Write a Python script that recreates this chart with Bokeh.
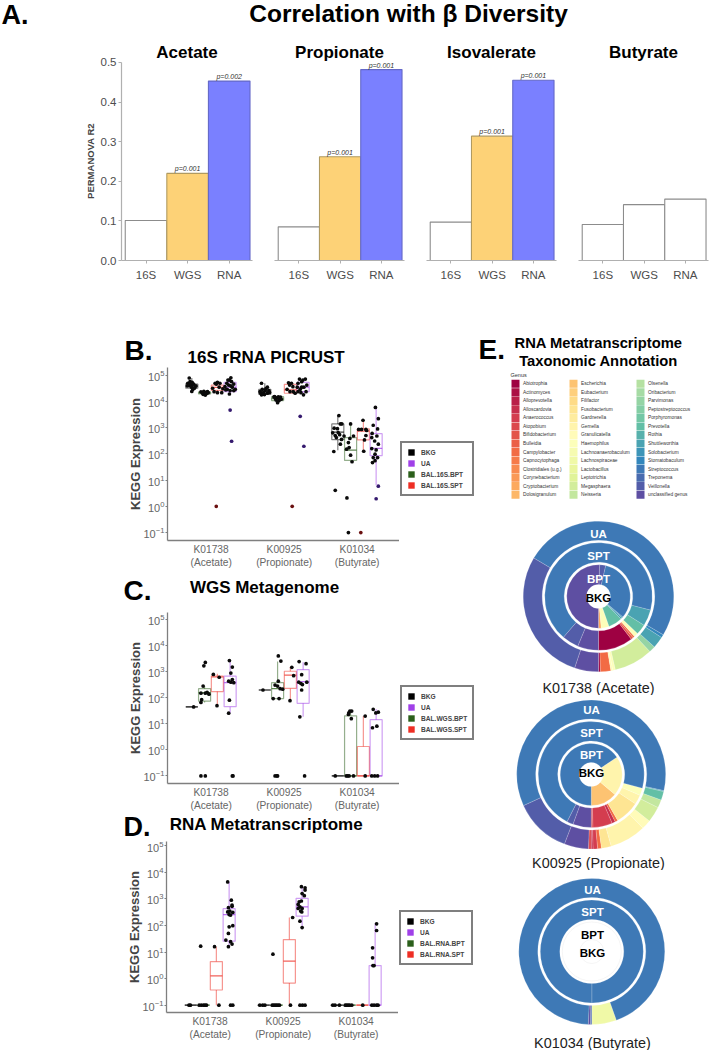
from bokeh.plotting import figure
from bokeh.layouts import column, row
from bokeh.core.properties import value
from bokeh.models import (Range1d, Label, FixedTicker, LogTickFormatter, Legend, LegendItem, ColumnDataSource,
                          NumeralTickFormatter)
from bokeh.embed import file_html
from bokeh.resources import INLINE
import numpy as np

FONT = "Liberation Sans"

# ---------- Panel A ----------
a_panels = ["Acetate", "Propionate", "Isovalerate", "Butyrate"]
a_methods = ["16S", "WGS", "RNA"]
a_acetate = [0.101, 0.220, 0.453]
a_propionate = [0.085, 0.262, 0.482]
a_isovalerate = [0.097, 0.314, 0.455]
a_butyrate = [0.091, 0.141, 0.155]
a_p_acetate = ["", "p=0.001", "p=0.002"]
a_p_propionate = ["", "p=0.001", "p=0.001"]
a_p_isovalerate = ["", "p=0.001", "p=0.001"]
a_p_butyrate = ["", "", ""]

# ---------- Panels B, C, D : log10 expression ----------
categories = ["K01738\n(Acetate)", "K00925\n(Propionate)", "K01034\n(Butyrate)"]
group_offset = [-0.265, -0.09, 0.085, 0.26]

b_legend = ["BKG", "UA", "BAL.16S.BPT", "BAL.16S.SPT"]
c_legend = ["BKG", "UA", "BAL.WGS.BPT", "BAL.WGS.SPT"]
d_legend = ["BKG", "UA", "BAL.RNA.BPT", "BAL.RNA.SPT"]

# order per category: BKG, BPT, SPT, UA
b_q1 = [4.50, 4.28, 4.42, 4.37, 4.27, 4.03, 4.31, 4.37, 2.54, 1.75, 2.53, 1.93]
b_med = [4.58, 4.32, 4.53, 4.54, 4.37, 4.10, 4.44, 4.54, 2.83, 2.14, 2.87, 2.21]
b_q3 = [4.66, 4.36, 4.62, 4.72, 4.46, 4.18, 4.65, 4.72, 3.14, 2.62, 2.95, 2.77]
b_lo = [4.38, 4.21, 4.33, 4.28, 4.25, 3.95, 4.31, 4.28, 2.14, 1.70, 2.11, 0.80]
b_hi = [4.89, 4.38, 4.72, 4.90, 4.69, 4.18, 4.71, 4.85, 3.47, 3.14, 3.28, 3.78]

c_q1 = [1.65, 1.87, 2.24, 1.66, 2.30, 1.97, 2.36, 1.79, -1, -1, -1, -1]
c_med = [1.65, 2.20, 2.80, 2.58, 2.30, 2.35, 2.87, 2.62, -1, -1, -1, -1]
c_q3 = [1.65, 2.35, 2.83, 2.83, 2.30, 2.58, 3.02, 3.08, -1, 1.31, 0.13, 1.16]
c_lo = [1.65, 1.82, 1.70, 1.41, 2.30, 1.97, 1.89, 1.27, -1, -1, -1, -1]
c_hi = [1.65, 2.45, 2.92, 3.43, 2.30, 3.39, 3.18, 3.37, -1, 1.49, 1.30, 1.57]

d_q1 = [-1, -1, -0.43, 1.41, -1, -1, -0.17, 2.35, -1, -1, -1, -1]
d_med = [-1, -1, 0.10, 2.41, -1, -1, 0.66, 2.70, -1, -1, -1, -1]
d_q3 = [-1, -1, 0.64, 2.63, -1, -1, 1.47, 3.02, -1, -1, -1, 0.49]
d_lo = [-1, -1, -1, 1.20, -1, -1, -1, 1.92, -1, -1, -1, -1]
d_hi = [-1, -1, 1.20, 3.64, -1, -1, 2.30, 3.46, -1, -1, -1, 2.06]

# points : B
b_x = [.70,.68,.71,.735,.76,.71,.78,.73,.79,.675,.75,.735,.77,.71,.74,
       .86,.88,.90,.91,.93,.95,.96,.89,.92,.94,.90,.915,
       1.055,1.086,1.12,1.02,1.04,1.11,1.145,1.086,1.16,1.07,
       1.27,1.25,1.28,1.215,1.31,1.24,1.19,1.29,1.33,1.22,1.26,1.31,1.25,1.20,1.27,1.23,
       1.69,1.77,1.70,1.67,1.74,1.79,1.68,1.72,1.77,1.73,1.80,1.69,1.75,
       1.86,1.88,1.90,1.92,1.94,1.96,1.89,1.93,1.91,1.87,1.95,
       2.06,2.10,2.04,2.125,2.15,2.08,2.12,2.075,
       2.21,2.256,2.29,2.19,2.24,2.31,2.18,2.22,2.27,2.30,2.23,2.265,2.19,2.24,
       2.75,2.77,2.685,2.73,2.665,2.70,2.76,2.785,2.715,2.77,2.68,2.70,2.74,2.79,
       2.91,2.90,2.82,2.95,2.88,2.91,2.93,2.86,2.88,2.855,2.89,
       3.08,3.02,3.06,3.12,3.13,3.12,3.10,3.09,
       3.25,3.29,3.22,3.28,3.205,3.27,3.20,3.24,3.29,3.20,3.26,3.245,3.22,3.28,3.245,3.21]
b_y = [4.89,4.69,4.75,4.62,4.66,4.60,4.56,4.54,4.59,4.59,4.46,4.38,4.5,4.69,4.72,
       4.36,4.33,4.38,4.3,4.34,4.37,4.33,4.27,4.24,4.3,4.34,4.32,
       4.69,4.72,4.69,4.5,4.37,4.54,4.33,4.33,4.48,4.66,
       4.9,4.81,4.75,4.69,4.66,4.62,4.56,4.54,4.46,4.46,4.41,4.41,4.28,4.44,4.59,4.81,
       4.69,4.54,4.46,4.37,4.41,4.41,4.31,4.33,4.31,4.26,4.34,4.25,4.49,
       4.17,4.1,4.13,4.17,4.12,4.08,4.05,4.03,3.95,4.18,4.16,
       4.71,4.69,4.46,4.37,4.31,4.37,4.56,4.62,
       4.85,4.81,4.85,4.69,4.75,4.62,4.54,4.46,4.54,4.37,4.33,4.25,4.37,4.54,
       3.46,3.14,2.98,2.96,2.80,2.70,2.73,2.55,2.62,2.37,2.09,0.61,2.81,3.14,
       3.14,2.59,2.68,2.68,2.43,1.95,1.70,0.32,-1,2.18,2.24,
       3.28,2.93,2.93,2.93,2.89,2.70,2.53,2.10,
       3.77,3.34,3.09,2.95,2.78,2.68,2.62,2.49,2.37,2.2,2.15,1.99,1.86,1.86,1.74,1.67]
b_red_x = [1.07, 2.11, 3.05]
b_red_y = [0, 0, -1]
b_violet_x = [1.26, 1.28, 2.22, 2.27, 3.29, 3.26]
b_violet_y = [3.67, 2.48, 3.43, 2.29, 0.77, 0.29]

# points : C
c_x = [.76,
       .90,.92,.89,.86,.92,.945,.97,.87,.86,.86,.92,
       1.03,1.11,1.08,
       1.25,1.29,1.27,1.29,1.24,1.27,1.31,1.25,1.24,1.29,1.30,
       1.71,
       1.92,1.955,1.92,1.875,1.91,1.945,1.98,1.85,1.93,1.875,1.90,1.91,
       2.105,2.13,2.08,
       2.205,2.30,2.24,2.23,2.20,2.31,2.25,2.24,2.215,2.28,
       2.70,
       2.885,2.90,2.925,2.88,2.92,2.85,2.87,2.89,2.95,
       3.11,3.11,
       3.22,3.29,3.255,3.21,3.27,3.20,3.24,3.28]
c_y = [1.65,
       3.23,3.36,2.45,2.18,2.18,2.21,2.14,1.93,1.82,-1,-1,
       2.9,2.79,1.7,
       3.43,3.18,2.95,2.70,2.64,2.6,2.58,1.91,1.41,-1,-1,
       2.30,
       3.61,3.41,2.64,2.49,2.45,2.35,2.33,1.97,1.97,-1,-1,-1,
       3.17,2.85,1.89,
       3.39,3.31,2.89,2.55,2.6,2.6,2.51,2.3,1.27,-1,
       -1,
       1.42,1.49,1.49,1.36,1.2,-1,-1,-1,-1,
       1.3,-1,
       1.56,1.45,1.42,.85,.91,-1,-1,-1]

# points : D
d_x = [.73,.71,
       .85,.88,.91,.93,.95,.87,
       1.06,1.12,
       1.24,1.29,1.30,1.25,1.30,1.27,1.26,1.24,1.31,1.28,1.215,1.31,1.25,1.26,1.28,1.30,1.25,1.28,1.31,
       1.68,1.72,1.75,
       1.85,1.87,1.89,1.91,1.93,1.95,1.86,
       2.13,2.10,
       2.25,2.30,2.30,2.26,2.29,2.22,2.25,2.205,2.23,2.26,2.24,2.205,2.255,2.23,2.26,2.23,2.265,2.30,
       2.68,2.71,2.77,
       2.85,2.87,2.89,2.91,2.94,
       3.09,
       3.28,3.28,3.225,3.225,3.23,3.245,3.215,3.245,3.28,3.30]
d_y = [-1,-1,
       -1,-1,-1,-1,-1,1.22,
       1.2,-1,
       3.64,2.95,2.77,2.67,2.72,2.54,2.41,2.51,2.49,2.39,1.45,1.99,1.7,1.95,1.39,1.3,1.2,-1,-1,
       -1,-1,-1,
       -1,-1,-1,-1,-1,-1,.92,
       2.3,-1,
       3.46,3.42,3.33,3.2,3.12,2.89,2.92,2.79,2.7,2.64,2.54,2.64,2.51,2.16,1.92,-1,-1,-1,
       -1,-1,-1,
       -1,-1,-1,-1,-1,
       -1,
       2.06,1.81,1.16,.78,.49,.49,-1,-1,-1,-1]

# ---------- Panel E ----------
genus_col1 = ["Abiotrophia","Actinomyces","Alloprevotella","Alloscardovia","Anaerococcus","Atopobium",
              "Bifidobacterium","Bulleidia","Campylobacter","Capnocytophaga","Clostridiales (u.g.)",
              "Corynebacterium","Cryptobacterium","Dolosigranulum"]
genus_col2 = ["Escherichia","Eubacterium","Filifactor","Fusobacterium","Gardnerella","Gemella",
              "Granulicatella","Haemophilus","Lachnoanaerobaculum","Lachnospiraceae","Lactobacillus",
              "Leptotrichia","Megasphaera","Neisseria"]
genus_col3 = ["Olsenella","Oribacterium","Parvimonas","Peptostreptococcus","Porphyromonas","Prevotella",
              "Rothia","Shuttleworthia","Solobacterium","Stomatobaculum","Streptococcus","Treponema",
              "Veillonella","unclassified genus"]

# wedge sizes in degrees, anticlockwise from six o'clock
k01738_ua_genus = ["Abiotrophia","Campylobacter","Granulicatella","Haemophilus","Megasphaera","Parvimonas",
                   "Shuttleworthia","Stomatobaculum","Streptococcus","Veillonella","unclassified genus"]
k01738_ua_deg = [1.5, 8, 1.5, 2, 30, 5, 9, 2.4, 179.9, 102.3, 18.4]
k01738_spt_genus = ["Abiotrophia","Bifidobacterium","Campylobacter","Haemophilus","Prevotella","Shuttleworthia",
                    "Streptococcus","Veillonella","unclassified genus"]
k01738_spt_deg = [37.6, 2.4, 2, 4.5, 11.3, 17.6, 244, 18, 22.6]
k01738_bpt_genus = ["Cryptobacterium","Haemophilus","Prevotella","Shuttleworthia","Solobacterium","Streptococcus",
                    "Veillonella","unclassified genus"]
k01738_bpt_deg = [5, 14.4, 25.6, 3, 2, 117, 11, 182]

k00925_ua_genus = ["Alloscardovia","Anaerococcus","Campylobacter","Fusobacterium","Gemella","Granulicatella",
                   "Megasphaera","Neisseria","Prevotella","Shuttleworthia","Streptococcus","Veillonella",
                   "unclassified genus","Atopobium"]
k00925_ua_deg = [1.5, 3.5, 3, 7.6, 28.4, 7.4, 12.3, 6.3, 6.8, 0.7, 217.2, 44.3, 19, 2]
k00925_spt_genus = ["Atopobium","Anaerococcus","Alloscardovia","Campylobacter","Fusobacterium","Gemella",
                    "Haemophilus","Streptococcus","Veillonella","unclassified genus"]
k00925_spt_deg = [2, 21.3, 3.7, 3, 26.5, 10.5, 8, 258, 7, 20]
k00925_bpt_genus = ["Escherichia","Gemella","Streptococcus"]
k00925_bpt_deg = [50, 74, 236]

k01034_ua_genus = ["Lachnospiraceae","Streptococcus","unclassified genus","Treponema"]
k01034_ua_deg = [19.7, 337.6, 1.7, 1]
k01034_spt_genus = ["Streptococcus"]
k01034_spt_deg = [360]
k01034_bpt_genus = []
k01034_bpt_deg = []

# ---------- styling ----------
GROUP_COLOR = ["#000000", "#2B5F1B", "#EE2E24", "#A040E8"]
LEG_COLOR = ["#000000", "#A040E8", "#2B5F1B", "#EE2E24"]
spectral = ["#9e0142","#d53e4f","#f46d43","#fdae61","#fee08b","#ffffbf","#e6f598","#abdda4","#66c2a5","#3288bd","#5e4fa2"]
all_genus = genus_col1 + genus_col2 + genus_col3
_rgb = np.array([[int(c[i:i+2], 16) for i in (1, 3, 5)] for c in spectral], float)
_t = np.linspace(0, 10, len(all_genus))
GENUS_COLOR = {g: "#%02x%02x%02x" % tuple(int(round(np.interp(t, np.arange(11), _rgb[:, k]))) for k in range(3))
               for g, t in zip(all_genus, _t)}


def mk(box, frame=None, **kw):
    x0, y0, x1, y1 = box
    fx0, fy0, fx1, fy1 = frame if frame else box
    p = figure(width=x1 - x0, height=y1 - y0, toolbar_location=None, output_backend="svg",
               min_border_left=round(fx0 - x0), min_border_right=round(x1 - fx1),
               min_border_top=round(fy0 - y0), min_border_bottom=round(y1 - fy1),
               min_border=0, outline_line_color=None, **kw)
    p.grid.visible = False
    p._fr = (fx0, fy0, fx1, fy1)
    return p


def plain(box, frame=None):
    p = mk(box, frame, x_range=Range1d(0, 1), y_range=Range1d(0, 1))
    p.axis.visible = False
    return p


def lab(p, px, py, text, size, style="bold", color="black", align="center"):
    fx0, fy0, fx1, fy1 = p._fr
    p.add_layout(Label(x=px - fx0, y=fy1 - py, x_units="screen", y_units="screen", text=text,
                       text_font=FONT, text_font_size=f"{size}px", text_font_style=style,
                       text_color=color, text_align=align, text_baseline="middle"))


def swatch(p, color):
    # legend key: drawn off the visible range, only its legend entry shows
    return p.quad(left=[5], right=[6], top=[6], bottom=[5], fill_color=color, line_color=None)


# ---------- header ----------
hdr = plain((0, 0, 710, 40))
lab(hdr, 1, 14, "A.", 27, align="left")
lab(hdr, 408, 13, "Correlation with \u03b2 Diversity", 24.5)

# ---------- A ----------
A_boxes = [(0, 40, 263, 290), (263, 40, 415, 290), (415, 40, 567, 290), (567, 40, 710, 290)]
A_frames = [(121, 60, 252, 260), (274, 60, 404, 260), (426, 60, 556, 260), (578, 60, 708, 260)]
A_vals = [a_acetate, a_propionate, a_isovalerate, a_butyrate]
A_ps = [a_p_acetate, a_p_propionate, a_p_isovalerate, a_p_butyrate]
A_fill = [["white", "#FDD277", "#7A80FF"], ["white", "#FDD277", "#7A80FF"],
          ["white", "#FDD277", "#7A80FF"], ["white", "white", "white"]]
A_line = [["#8c8c8c", "#b09a60", "#6468c8"], ["#8c8c8c", "#b09a60", "#6468c8"],
          ["#8c8c8c", "#b09a60", "#6468c8"], ["#8c8c8c", "#8c8c8c", "#8c8c8c"]]
a_figs = []
for i in range(4):
    p = mk(A_boxes[i], A_frames[i], x_range=Range1d(0.41, 3.56), y_range=Range1d(0, 0.5025))
    p.vbar(x=[1, 2, 3], top=A_vals[i], width=1, bottom=0, fill_color=A_fill[i], line_color=A_line[i], line_width=1.1)
    p.text(x=[1, 2, 3], y=A_vals[i], text=A_ps[i], y_offset=-1, text_align="center", text_baseline="bottom",
           text_font=value(FONT), text_font_size="7px", text_font_style="italic", text_color="#333333")
    p.xaxis.ticker = FixedTicker(ticks=[1, 2, 3])
    p.xaxis.major_label_overrides = {1: a_methods[0], 2: a_methods[1], 3: a_methods[2]}
    p.xaxis.major_label_text_font = FONT
    p.xaxis.major_label_text_font_size = "11.5px"
    p.xaxis.major_label_text_color = "#4d4d4d"
    p.xaxis.axis_line_color = "#b0b0b0"
    p.xaxis.axis_line_width = 1.2
    p.xaxis.major_tick_line_color = "#b0b0b0"
    p.xaxis.major_tick_out = 3
    p.xaxis.major_tick_in = 0
    p.xaxis.minor_tick_line_color = None
    if i == 0:
        p.yaxis.bounds = (0, 0.5)
        p.yaxis.ticker = FixedTicker(ticks=[0, .1, .2, .3, .4, .5])
        p.yaxis.formatter = NumeralTickFormatter(format="0.0")
        p.yaxis.major_label_text_font = FONT
        p.yaxis.major_label_text_font_size = "11.5px"
        p.yaxis.major_label_text_color = "#4d4d4d"
        p.yaxis.axis_line_color = "#b0b0b0"
        p.yaxis.axis_line_width = 1.2
        p.yaxis.major_tick_line_color = "#b0b0b0"
        p.yaxis.major_tick_out = 3
        p.yaxis.major_tick_in = 0
        p.yaxis.major_label_standoff = 2
        p.yaxis.minor_tick_line_color = None
        p.yaxis.axis_label = "PERMANOVA R2"
        p.yaxis.axis_label_text_font = FONT
        p.yaxis.axis_label_text_font_style = "bold"
        p.yaxis.axis_label_text_font_size = "9.5px"
        p.yaxis.axis_label_standoff = 2
    else:
        p.yaxis.visible = False
    p.title.text = a_panels[i]
    p.title.align = "center"
    p.title.text_font = FONT
    p.title.text_font_size = "17px"
    p.title.text_font_style = "bold"
    p.title.text_color = "black"
    p.title.standoff = 0
    p.title.offset = 0
    a_figs.append(p)


# ---------- B C D ----------
def expr_panel(top, box, frame, yr, q1, med, q3, lo, hi, xs, ys, leg_labels, leg_top, letter, letter_xy, letter_size, title, title_xy, extra=()):
    strip = plain((0, top, 477, frame[1]))
    lab(strip, letter_xy[0], letter_xy[1], letter, letter_size, align="left")
    lab(strip, title_xy[0], title_xy[1], title, 17)

    p = mk((box[0], frame[1], frame[2], box[3]), (frame[0], frame[1], frame[2], frame[3]), y_axis_type="log",
           x_range=Range1d(0.402, 3.58), y_range=Range1d(10 ** yr[0], 10 ** yr[1]))
    cx = [c + group_offset[g] for c in (1, 2, 3) for g in range(4)]
    col = [GROUP_COLOR[g] for c in (1, 2, 3) for g in range(4)]
    pw = lambda a: [10.0 ** v for v in a]
    src = ColumnDataSource(dict(x=cx, q1=pw(q1), q3=pw(q3), med=pw(med), lo=pw(lo), hi=pw(hi), c=col))
    p.segment(x0="x", x1="x", y0="q3", y1="hi", line_color="c", line_alpha=0.5, line_width=1.2, source=src)
    p.segment(x0="x", x1="x", y0="q1", y1="lo", line_color="c", line_alpha=0.5, line_width=1.2, source=src)
    p.vbar(x="x", width=0.165, bottom="q1", top="q3", fill_color="white", fill_alpha=0.0, line_color="c",
           line_alpha=0.5, line_width=1.2, source=src)
    p.segment(x0=[a - 0.0825 for a in cx], x1=[a + 0.0825 for a in cx], y0=src.data["med"], y1=src.data["med"],
              line_color=col, line_alpha=0.75, line_width=1.2)
    p.scatter(x=xs, y=pw(ys), size=3.7, marker="circle", fill_color="#0a0a0a", line_color=None)
    for ex, ey, ec in extra:
        p.scatter(x=ex, y=pw(ey), size=3.7, marker="circle", fill_color=ec, line_color=None)
    p.yaxis.ticker = FixedTicker(ticks=[0.1, 1, 10, 100, 1000, 10000, 100000])
    p.yaxis.formatter = LogTickFormatter()
    p.xaxis.ticker = FixedTicker(ticks=[1, 2, 3])
    p.xaxis.major_label_overrides = {1: categories[0], 2: categories[1], 3: categories[2]}
    for ax in (p.xaxis, p.yaxis):
        ax.major_label_text_font = FONT
        ax.major_label_text_font_size = "10.2px"
        ax.major_label_text_color = "#666666"
        ax.axis_line_color = "#7f7f7f"
        ax.axis_line_width = 1.3
        ax.minor_tick_line_color = None
        ax.major_tick_line_color = None
        ax.major_tick_in = 0
        ax.major_tick_out = 0
        ax.major_label_standoff = 3
    p.yaxis.major_tick_line_color = "#7f7f7f"
    p.yaxis.major_tick_out = 2
    p.yaxis.major_label_standoff = 1
    p.yaxis.major_label_text_font_size = "11px"
    p.yaxis.axis_label = "KEGG Expression"
    p.yaxis.axis_label_text_font = FONT
    p.yaxis.axis_label_text_font_style = "bold"
    p.yaxis.axis_label_text_font_size = "13px"
    p.yaxis.axis_label_standoff = -3

    lf = plain((frame[2], frame[1], 477, box[3]), (frame[2], frame[1], 477, frame[3]))
    items = []
    for lb, c in zip(leg_labels, LEG_COLOR):
        items.append(LegendItem(label=lb, renderers=[swatch(lf, c)]))
    leg = Legend(items=items, location=(1, frame[3] - leg_top - 51), orientation="vertical",
                 glyph_width=8, glyph_height=8, spacing=3, padding=5, margin=0, label_standoff=6, label_width=46,
                 label_height=8, label_text_font=FONT, label_text_font_size="6.6px",
                 label_text_font_style="bold", border_line_color="black", border_line_width=2,
                 background_fill_color="white", background_fill_alpha=1)
    lf.add_layout(leg)
    return column(strip, row(p, lf, spacing=0), spacing=0)


fig_b = expr_panel(290, (0, 290, 477, 570), (167, 367, 399, 542), (-1.30, 5.29), b_q1, b_med, b_q3, b_lo, b_hi, b_x, b_y,
                   b_legend, 447, "B.", (124, 350), 28, "16S rRNA PICRUST", (266, 357),
                   extra=[(b_red_x, b_red_y, "#6a1010"), (b_violet_x, b_violet_y, "#351a6e")])
fig_c = expr_panel(570, (0, 570, 477, 813), (167, 612, 399, 786), (-1.29, 5.276), c_q1, c_med, c_q3, c_lo, c_hi, c_x, c_y,
                   c_legend, 692, "C.", (123, 590), 28, "WGS Metagenome", (264, 587))
fig_d = expr_panel(813, (0, 813, 477, 1050), (166, 841, 398, 1012), (-1.276, 5.16), d_q1, d_med, d_q3, d_lo, d_hi, d_x, d_y,
                   d_legend, 914, "D.", (123, 826), 27, "RNA Metatranscriptome", (266, 824))

# ---------- E legend ----------
fig_e = plain((477, 290, 710, 505))
fig_e.x_range = Range1d(477, 710)
fig_e.y_range = Range1d((505 - 383.3) / 8.53, (290 - 383.3) / 8.53)
lab(fig_e, 478, 349, "E.", 28, align="left")
lab(fig_e, 598, 342, "RNA Metatranscriptome", 14.75)
lab(fig_e, 598, 360, "Taxonomic Annotation", 14.75)
lab(fig_e, 510, 374.5, "Genus", 5.5, style="normal", color="#333333", align="left")
for names, lx in ((genus_col1, 511), (genus_col2, 569), (genus_col3, 636)):
    rows = list(range(len(names)))
    fig_e.rect(x=[lx + 4] * len(names), y=rows, width=8, height=8.1, width_units="screen", height_units="screen",
               fill_color=[GENUS_COLOR[g] for g in names], line_color=None)
    fig_e.text(x=[lx + 11.5] * len(names), y=rows, text=names, text_baseline="middle", text_align="left",
               text_font=value(FONT), text_font_size="4.8px", text_color="#333333")


# ---------- donuts ----------
def donut(box, cx, cy, rings, text_xy, caption, cap_xy, outer=75):
    x0, y0, x1, y1 = box
    p = mk(box, x_range=Range1d(x0 - cx, x1 - cx), y_range=Range1d(cy - y1, cy - y0))
    p.axis.visible = False
    radii = [(outer - 19, outer), (outer - 41, outer - 21.5), (12, outer - 43.5)]
    for (names, deg), (ri, ro) in zip(rings, radii):
        if len(deg):
            edges = np.cumsum([0] + list(deg))
            p.annular_wedge(x=0, y=0, inner_radius=ri, outer_radius=ro,
                            start_angle=np.radians(270 + edges[:-1]), end_angle=np.radians(270 + edges[1:]),
                            direction="anticlock", fill_color=[GENUS_COLOR[g] for g in names],
                            line_color="white", line_alpha=0.35, line_width=0.5)
        else:
            p.circle(x=0, y=0, radius=ro, fill_color=None, line_color="#eeeeee", line_width=0.6)
            p.circle(x=0, y=0, radius=ri, fill_color=None, line_color="#eeeeee", line_width=0.6)
    for (t, tx, ty, c) in text_xy:
        lab(p, tx, ty, t, 11.5, color=c)
    lab(p, cap_xy[0], cap_xy[1], caption, 14.4, style="normal", color="#222222")
    return p


d1 = donut((477, 505, 710, 695), 598, 596,
           [(k01738_ua_genus, k01738_ua_deg), (k01738_spt_genus, k01738_spt_deg), (k01738_bpt_genus, k01738_bpt_deg)],
           [("UA", 598, 533, "white"), ("SPT", 598, 555, "white"), ("BPT", 598, 578, "white"), ("BKG", 598, 597, "black")],
           "K01738 (Acetate)", (598, 687), outer=75.3)
d2 = donut((477, 695, 710, 870), 590.7, 774,
           [(k00925_ua_genus, k00925_ua_deg), (k00925_spt_genus, k00925_spt_deg), (k00925_bpt_genus, k00925_bpt_deg)],
           [("UA", 591, 709, "white"), ("SPT", 591, 732, "white"), ("BPT", 591, 754, "white"), ("BKG", 591, 772, "black")],
           "K00925 (Propionate)", (598, 862), outer=74.5)
d3 = donut((477, 870, 710, 1050), 591.3, 951,
           [(k01034_ua_genus, k01034_ua_deg), (k01034_spt_genus, k01034_spt_deg), (k01034_bpt_genus, k01034_bpt_deg)],
           [("UA", 592, 889, "white"), ("SPT", 592, 911, "white"), ("BPT", 592, 934, "black"), ("BKG", 592, 952, "black")],
           "K01034 (Butyrate)", (592, 1042), outer=73)

left = column(fig_b, fig_c, fig_d, spacing=0)
right = column(fig_e, d1, d2, d3, spacing=0)
root = column(hdr, row(*a_figs, spacing=0), row(left, right, spacing=0), spacing=0)
open("out.html", "w").write(file_html(root, INLINE))
